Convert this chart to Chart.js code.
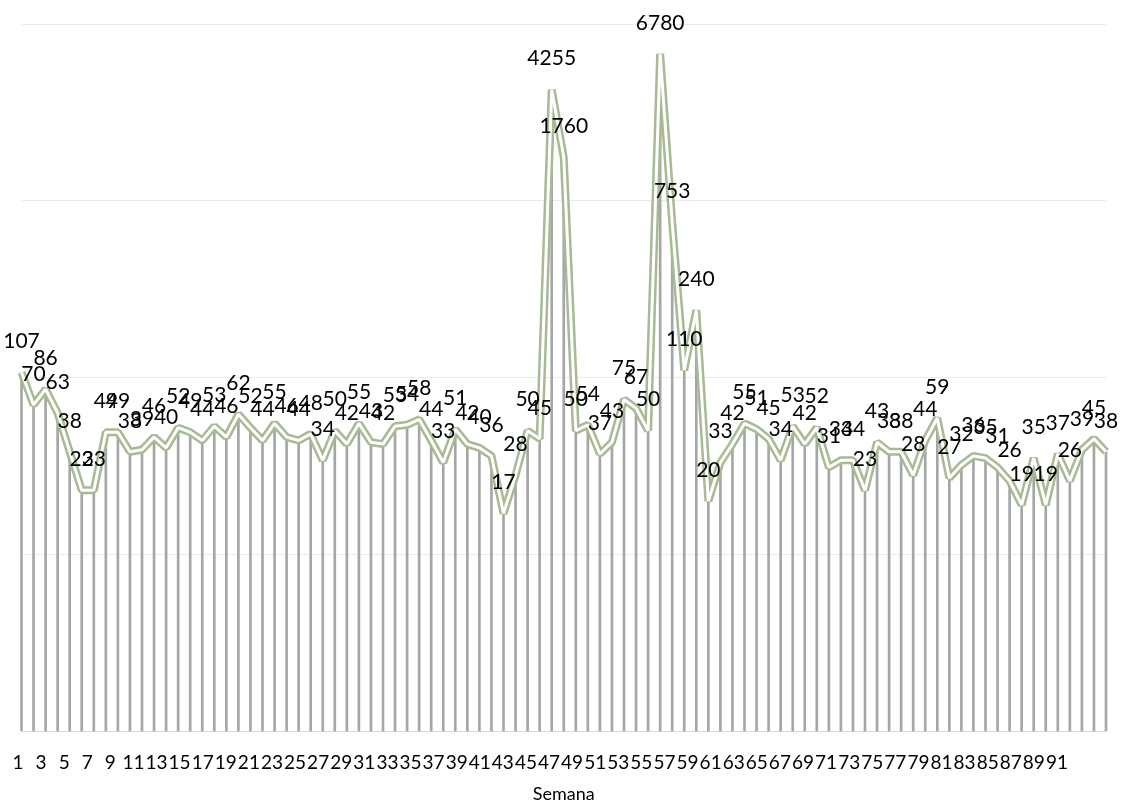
<!DOCTYPE html>
<html lang="es">
<head>
<meta charset="utf-8">
<title>Semana</title>
<script src="https://cdn.jsdelivr.net/npm/chart.js@4.4.1/dist/chart.umd.min.js"></script>
<style>
  html, body { margin: 0; padding: 0; background: #fff; }
  #chart { display: block; }
</style>
</head>
<body>
<canvas id="chart" width="1122" height="803"></canvas>
<script>
// weekly counts, week 1..91
const weeks = [
  1, 2, 3, 4, 5, 6, 7, 8, 9, 10, 11, 12, 13, 14, 15, 16, 17, 18, 19, 20,
  21, 22, 23, 24, 25, 26, 27, 28, 29, 30, 31, 32, 33, 34, 35, 36, 37, 38, 39, 40,
  41, 42, 43, 44, 45, 46, 47, 48, 49, 50, 51, 52, 53, 54, 55, 56, 57, 58, 59, 60,
  61, 62, 63, 64, 65, 66, 67, 68, 69, 70, 71, 72, 73, 74, 75, 76, 77, 78, 79, 80,
  81, 82, 83, 84, 85, 86, 87, 88, 89, 90, 91
];
const values = [
  107, 70, 86, 63, 38, 23, 23, 49, 49, 38,
  39, 46, 40, 52, 49, 44, 53, 46, 62, 52,
  44, 55, 46, 44, 48, 34, 50, 42, 55, 43,
  42, 53, 54, 58, 44, 33, 51, 42, 40, 36,
  17, 28, 50, 45, 4255, 1760, 50, 54, 37, 43,
  75, 67, 50, 6780, 753, 110, 240, 20, 33, 42,
  55, 51, 45, 34, 53, 42, 52, 31, 34, 34,
  23, 43, 38, 38, 28, 44, 59, 27, 32, 36,
  35, 31, 26, 19, 35, 19, 37, 26, 39, 45,
  38
];
// only every other week gets a tick label
const tickWeeks = [
  1, 3, 5, 7, 9, 11, 13, 15, 17, 19, 21, 23, 25, 27, 29, 31, 33, 35, 37, 39,
  41, 43, 45, 47, 49, 51, 53, 55, 57, 59, 61, 63, 65, 67, 69, 71, 73, 75, 77, 79,
  81, 83, 85, 87, 89, 91
];
const gridValues = [1, 10, 100, 1000, 10000];

const GREEN = '#a7ba93';
const GRAY = '#a6a6a6';
const TEXT = '#000000';

// number above every point
const valueLabels = {
  id: 'valueLabels',
  afterDatasetsDraw(chart) {
    const meta = chart.getDatasetMeta(1);
    const ctx = chart.ctx;
    ctx.save();
    ctx.font = '21px Lato';
    ctx.fillStyle = TEXT;
    ctx.textAlign = 'center';
    ctx.textBaseline = 'middle';
    meta.data.forEach((pt, i) => {
      ctx.fillText(String(values[i]), pt.x, pt.y - 31);
    });
    ctx.restore();
  }
};

function draw() {
  Chart.defaults.font.family = 'Lato';
  new Chart(document.getElementById('chart'), {
    data: {
      labels: weeks,
      datasets: [
        // drop lines down to the axis
        { type: 'bar', data: values, backgroundColor: GRAY, barThickness: 2, order: 3, clip: false },
        // double line: wide green stroke with a white core
        { type: 'line', data: values, borderColor: GREEN, borderWidth: 8, pointRadius: 0,
          tension: 0, borderJoinStyle: 'bevel', order: 2, clip: false },
        { type: 'line', data: values, borderColor: '#ffffff', borderWidth: 3, pointRadius: 0,
          tension: 0, borderJoinStyle: 'bevel', order: 1, clip: false }
      ]
    },
    options: {
      responsive: false,
      animation: false,
      layout: { padding: { left: 21.5, right: 16, top: 24, bottom: 0 } },
      plugins: { legend: { display: false }, tooltip: { enabled: false } },
      scales: {
        x: {
          type: 'category',
          offset: false,
          display: false,
          afterFit: (s) => { s.height = 0; }
        },
        wk: {
          type: 'linear',
          position: 'bottom',
          min: 1.303,
          max: 95.25,
          grid: { display: false, drawTicks: false },
          border: { display: false },
          afterBuildTicks: (s) => { s.ticks = tickWeeks.map(v => ({ value: v })); },
          afterFit: (s) => { s.height = 72; s.paddingLeft = 0; s.paddingRight = 0; },
          ticks: {
            autoSkip: false,
            maxRotation: 0,
            minRotation: 0,
            padding: 20,
            color: TEXT,
            font: { size: 19 },
            callback: (v) => String(v)
          },
          title: {
            display: true,
            text: 'Semana',
            color: TEXT,
            font: { size: 18 },
            padding: { top: 0, bottom: -2 }
          }
        },
        y: {
          type: 'logarithmic',
          min: 1,
          max: 10000,
          afterBuildTicks: (s) => { s.ticks = gridValues.map(v => ({ value: v })); },
          afterFit: (s) => { s.width = 0; s.paddingTop = 0; s.paddingBottom = 0; },
          ticks: { display: false },
          border: { display: false },
          grid: {
            drawTicks: false,
            lineWidth: 1,
            color: (c) => (c.tick && c.tick.value === 1 ? '#d9d9d9' : '#ebebeb')
          }
        }
      }
    },
    plugins: [valueLabels]
  });
}

if (document.fonts && document.fonts.load) {
  document.fonts.load('21px Lato').then(draw, draw);
} else {
  draw();
}
</script>
</body>
</html>
